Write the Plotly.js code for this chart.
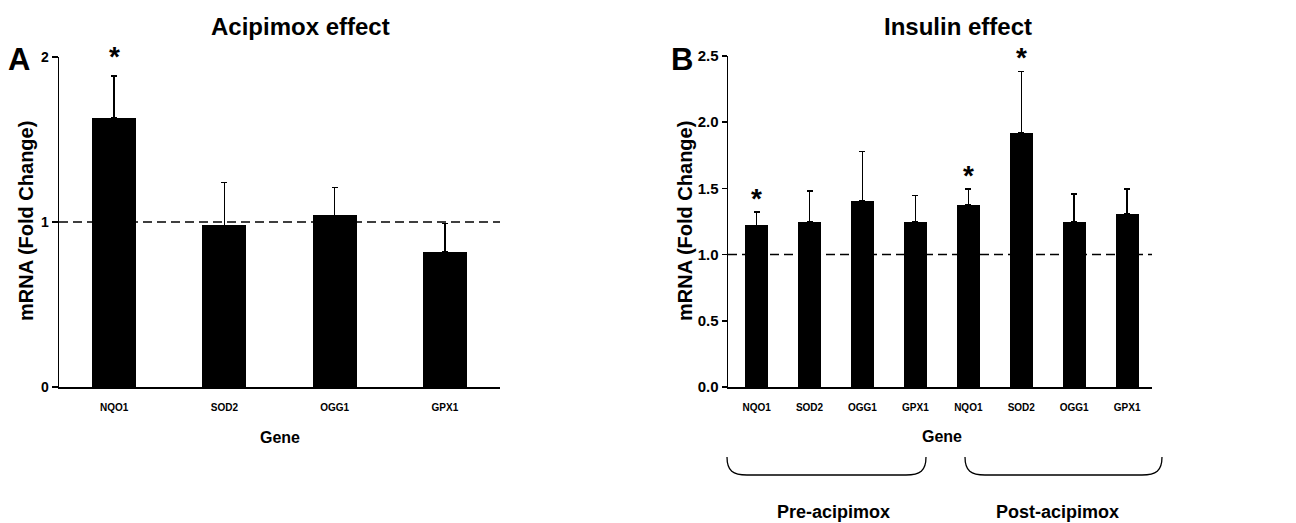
<!DOCTYPE html>
<html><head><meta charset="utf-8">
<script src="https://cdn.plot.ly/plotly-3.0.1.min.js"></script>
<style>html,body{margin:0;padding:0;background:#fff}</style>
</head><body><div id="chart" style="width:1296px;height:523px"></div>
<script>
// ---- data ----
const genesA = ['NQO1', 'SOD2', 'OGG1', 'GPX1'];
const meanA = [1.63, 0.98, 1.04, 0.82];
const semA = [0.255, 0.26, 0.17, 0.17];
const sigA = [true, false, false, false];

const genesB = ['NQO1', 'SOD2', 'OGG1', 'GPX1', 'NQO1', 'SOD2', 'OGG1', 'GPX1'];
const meanB = [1.22, 1.245, 1.405, 1.25, 1.375, 1.92, 1.25, 1.31];
const semB = [0.10, 0.236, 0.375, 0.195, 0.12, 0.463, 0.208, 0.186];
const sigB = [true, false, false, false, true, true, false, false];

const yTickValsA = [0, 1, 2];
const yTickTextA = ['0', '1', '2'];
const yTickValsB = [0, 0.5, 1.0, 1.5, 2.0, 2.5];
const yTickTextB = ['0.0', '0.5', '1.0', '1.5', '2.0', '2.5'];
const groupLabels = ['Pre-acipimox', 'Post-acipimox'];

// ---- layout helpers ----
const W = 1296, H = 523;
const px = x => x / W;
const py = y => 1 - y / H;
const FONT = 'Liberation Sans, Arial, sans-serif';
const idxA = genesA.map((_, i) => i);
const idxB = genesB.map((_, i) => i);

const traces = [
  {
    type: 'bar', x: idxA, y: meanA, xaxis: 'x', yaxis: 'y', width: 0.4,
    marker: {color: '#000', line: {width: 0}},
    error_y: {type: 'data', symmetric: false, array: semA, arrayminus: semA.map(() => 0),
      color: '#000', thickness: 1.5, width: 3},
    hoverinfo: 'skip'
  },
  {
    type: 'bar', x: idxB, y: meanB, xaxis: 'x2', yaxis: 'y2', width: 0.43,
    marker: {color: '#000', line: {width: 0}},
    error_y: {type: 'data', symmetric: false, array: semB, arrayminus: semB.map(() => 0),
      color: '#000', thickness: 1.5, width: 3},
    hoverinfo: 'skip'
  }
];

const axisCommon = {
  showline: true, linecolor: '#000', linewidth: 1.5, showgrid: false, zeroline: false,
  automargin: false, fixedrange: true
};

const annotations = [];
function txt(text, x, y, size, extra) {
  annotations.push(Object.assign({
    text: text, x: px(x), y: py(y), xref: 'paper', yref: 'paper',
    showarrow: false, xanchor: 'center', yanchor: 'middle',
    font: {family: FONT, size: size, color: '#000', weight: 'bold'}
  }, extra || {}));
}
txt('Acipimox effect', 300, 27, 24);
txt('Insulin effect', 958, 27, 24);
txt('A', 19, 60, 31);
txt('B', 682, 59, 31);
txt('mRNA (Fold Change)', 26, 221, 20, {textangle: -90});
txt('mRNA (Fold Change)', 685, 221, 20, {textangle: -90});
txt('Gene', 280, 437, 16);
txt('Gene', 942, 436, 16);
txt(groupLabels[0], 833, 512, 18);
txt(groupLabels[1], 1057, 512, 18);

sigA.forEach((s, i) => {
  if (s) annotations.push({text: '*', x: i, y: meanA[i] + semA[i], xref: 'x', yref: 'y',
    showarrow: false, yanchor: 'bottom', yshift: 2,
    font: {family: FONT, size: 28, color: '#000', weight: 'bold'}});
});
sigB.forEach((s, i) => {
  if (s) annotations.push({text: '*', x: i, y: meanB[i] + semB[i], xref: 'x2', yref: 'y2',
    showarrow: false, yanchor: 'bottom', yshift: -4,
    font: {family: FONT, size: 28, color: '#000', weight: 'bold'}});
});

function brace(x0, x1, yTop, yBot, r) {
  const P = (x, y) => px(x).toFixed(5) + ',' + py(y).toFixed(5);
  return 'M' + P(x0, yTop) + ' C' + P(x0, yBot - 4) + ' ' + P(x0 + 6, yBot) + ' ' + P(x0 + r, yBot) +
    ' L' + P(x1 - r, yBot) + ' C' + P(x1 - 6, yBot) + ' ' + P(x1, yBot - 4) + ' ' + P(x1, yTop);
}

const shapes = [
  {type: 'line', xref: 'x domain', yref: 'y', x0: 0, x1: 1, y0: 1, y1: 1,
    line: {color: '#000', width: 1.5, dash: '9px,5px'}},
  {type: 'line', xref: 'x2 domain', yref: 'y2', x0: 0, x1: 1, y0: 1, y1: 1,
    line: {color: '#000', width: 1.5, dash: '9px,5px'}},
  {type: 'path', xref: 'paper', yref: 'paper', path: brace(727, 926, 457, 475, 20),
    line: {color: '#000', width: 1.3}},
  {type: 'path', xref: 'paper', yref: 'paper', path: brace(965, 1162, 457, 475, 20),
    line: {color: '#000', width: 1.3}}
];

const layout = {
  width: W, height: H, margin: {l: 0, r: 0, t: 0, b: 0},
  paper_bgcolor: '#fff', plot_bgcolor: '#fff', showlegend: false,
  font: {family: FONT, color: '#000'},
  xaxis: Object.assign({}, axisCommon, {
    domain: [px(59), px(500)], range: [-0.5, 3.5], anchor: 'y',
    tickmode: 'array', tickvals: idxA, ticktext: genesA, ticks: '', ticklabelstandoff: 10,
    tickfont: {family: FONT, size: 10, weight: 'bold'}
  }),
  yaxis: Object.assign({}, axisCommon, {
    domain: [py(387), py(57)], range: [0, 2], anchor: 'x',
    tickmode: 'array', tickvals: yTickValsA, ticktext: yTickTextA,
    ticks: 'outside', ticklen: 6, tickwidth: 1.5, tickcolor: '#000',
    tickfont: {family: FONT, size: 14, weight: 'bold'}
  }),
  xaxis2: Object.assign({}, axisCommon, {
    domain: [px(728), px(1152)], range: [-0.54, 7.47], anchor: 'y2',
    tickmode: 'array', tickvals: idxB, ticktext: genesB, ticks: '', ticklabelstandoff: 10,
    tickfont: {family: FONT, size: 10, weight: 'bold'}
  }),
  yaxis2: Object.assign({}, axisCommon, {
    domain: [py(387), py(56)], range: [0, 2.5], anchor: 'x2',
    tickmode: 'array', tickvals: yTickValsB, ticktext: yTickTextB,
    ticks: 'outside', ticklen: 5, tickwidth: 1.5, tickcolor: '#000',
    tickfont: {family: FONT, size: 15, weight: 'bold'}
  }),
  annotations: annotations,
  shapes: shapes,
  bargap: 0
};

Plotly.newPlot('chart', traces, layout, {staticPlot: true, displayModeBar: false});
</script></body></html>
